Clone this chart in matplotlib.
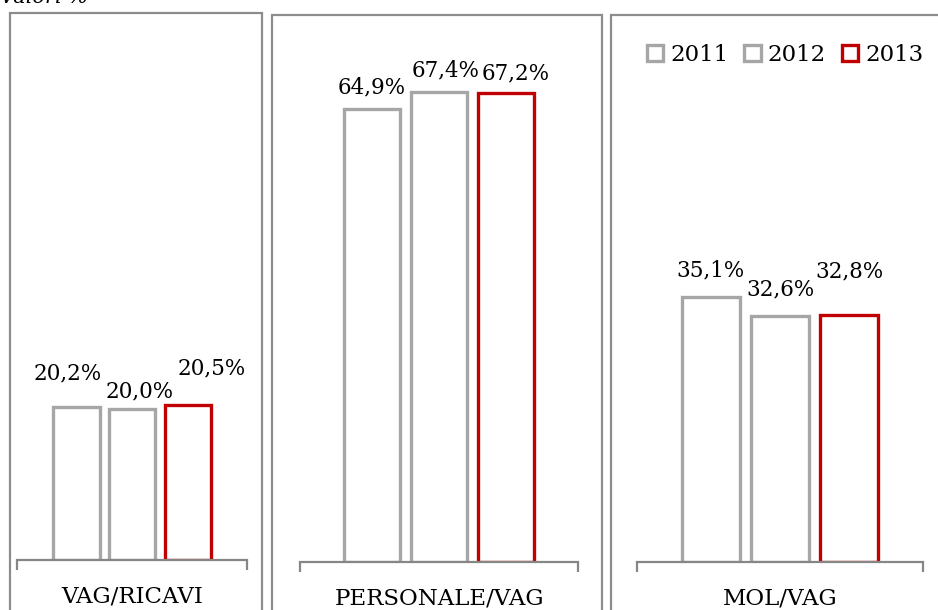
import matplotlib.pyplot as plt
from matplotlib.patches import Rectangle, Patch

W, H = 938, 610

years = ['2011', '2012', '2013']
categories = ['VAG/RICAVI', 'PERSONALE/VAG', 'MOL/VAG']
vag_ricavi = [20.2, 20.0, 20.5]
personale_vag = [64.9, 67.4, 67.2]
mol_vag = [35.1, 32.6, 32.8]

grey = '#a6a6a6'
red = '#c00000'
frame = '#8c8c8c'
edge_colors = [grey, grey, red]

plt.rcParams['font.family'] = 'DejaVu Serif'
plt.rcParams['font.size'] = 15

fig = plt.figure(figsize=(W / 100, H / 100), dpi=100)


def px_box(x0, y0, x1, y1):
    # pixel box (top-left origin) -> figure fraction [left, bottom, width, height]
    return [x0 / W, 1 - y1 / H, (x1 - x0) / W, (y1 - y0) / H]


# outer chart frames, running off the bottom of the figure
for x0, y0, x1 in [(10, 13, 262), (272, 15, 602), (611, 15, 960)]:
    fig.add_artist(Rectangle((x0 / W, -0.1), (x1 - x0) / W, 0.1 + 1 - y0 / H,
                             transform=fig.transFigure, fill=False,
                             edgecolor=frame, linewidth=1.6))

panels = [
    (vag_ricavi, (17, 30, 247, 560), 70, [(-9, 34), (8, 17), (24, 36)]),
    (personale_vag, (300, 39, 578, 562), 75, [(0, 22), (7, 22), (10, 20)]),
    (mol_vag, (637, 34, 923, 562), 70, [(0, 27), (1, 27), (0, 43)]),
]

for i, (vals, box, ymax, offsets) in enumerate(panels):
    ax = fig.add_axes(px_box(*box))
    ax.bar(range(3), vals, width=0.83, facecolor='white',
           edgecolor=edge_colors, linewidth=2.4)
    ax.set_xlim(-1.07, 3.07)
    ax.set_ylim(0, ymax)
    for s in ['top', 'left', 'right']:
        ax.spines[s].set_visible(False)
    ax.spines['bottom'].set_color('#868686')
    ax.spines['bottom'].set_linewidth(1.6)
    ax.set_yticks([])
    ax.set_xticks([-1.07, 3.07])
    ax.set_xticklabels([])
    ax.tick_params(axis='x', direction='out', length=7, width=1.6,
                   color='#868686')
    ax.set_xlabel(categories[i], fontsize=16.5, labelpad=8)
    for j, v in enumerate(vals):
        dx, dy = offsets[j]
        ax.annotate(f'{v:.1f}%'.replace('.', ','), (j, v),
                    xytext=(dx * 0.72, dy * 0.72), textcoords='offset points',
                    ha='center', va='center', fontsize=15.5)
    if i == 2:
        handles = [Patch(facecolor='white', edgecolor=c, linewidth=2.4)
                   for c in edge_colors]
        fig.legend(handles, years, loc='center', ncol=3, frameon=False,
                   bbox_to_anchor=(785 / W, 1 - 55 / H),
                   handlelength=0.72, handleheight=0.72,
                   handletextpad=0.3, columnspacing=0.7, fontsize=16.5)

fig.text(0, 1 - 3 / H, 'Valori %', style='italic', fontsize=15,
         va='baseline', ha='left')

fig.savefig('out.png', dpi=100)
